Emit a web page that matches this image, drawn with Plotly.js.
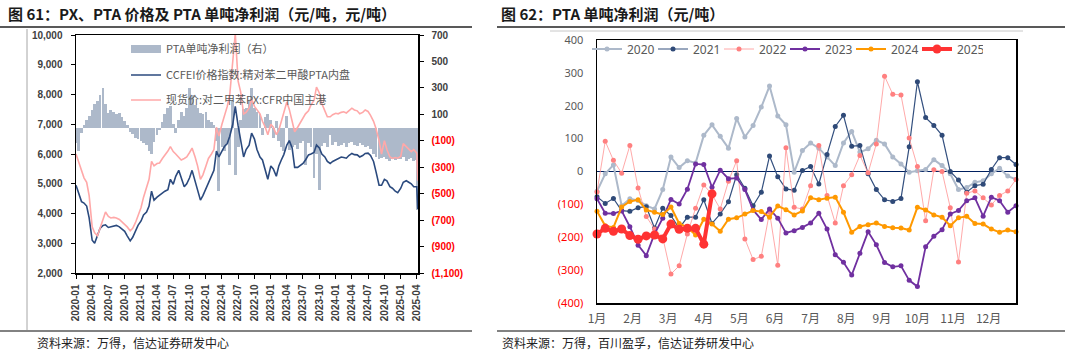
<!DOCTYPE html>
<html>
<head>
<meta charset="utf-8">
<script src="https://cdn.plot.ly/plotly-3.0.1.min.js"></script>
<style>html,body{margin:0;padding:0;background:#fff;}#chart{width:1065px;height:355px;}</style>
</head>
<body>
<div id="chart"></div>
<script>
// ---------- Left chart data (semi-monthly readings, 1st & 15th of each month) ----------
const pta2020 = [4950,4700,4400,4350,4250,3850,3100,3000,3250,3500,3600,3620,3530,3560,3570,3600,3550,3480,3400,3250,3080,3200,3450,3600];
const pta2021 = [3750,3950,4050,4250,4750,4450,4550,4620,4700,4750,4800,5150,4980,5250,5450,5200,4900,5000,5200,5450,5100,4800,4450,4600];
const pta2022 = [4850,5050,5250,5450,6100,5900,6100,6250,6350,6600,7000,7600,6950,6450,5900,6150,6300,6700,6500,6150,5900,5800,5450,5150];
const pta2023 = [5600,5500,5250,5600,5800,5980,6300,6450,6200,5550,5550,5600,5680,5800,5970,6000,6050,6300,6200,6000,5900,5750,5680,5750];
const pta2024 = [5800,5850,5900,5880,5860,5950,6020,5980,5970,5900,5950,6020,6030,5950,5750,5400,4950,4950,5150,5100,4900,4850,4750,4700];
const pta2025 = [4850,5050,5100,5050,5000,4900,4900,4150];

const px2020 = [6000,5750,5400,5200,5050,4600,3550,3350,3250,3500,3750,4050,3900,3850,3870,3850,3800,3720,3650,3550,3420,3500,3700,3900];
const px2021 = [4200,4550,4850,5150,5750,5600,5680,5700,5850,5950,6100,6250,6080,6000,5900,5800,5850,5900,6050,6200,5900,5600,5150,5300];
const px2022 = [5600,5850,6000,6150,6900,6600,7000,7300,7600,8000,9000,10050,8450,8100,7350,7400,7550,7850,7600,7500,7350,7100,6900,6650];
const px2023 = [7000,6900,6650,6800,7100,7350,7750,7500,7100,6750,6900,7050,7200,7350,7450,7650,7800,8250,8050,7700,7450,7250,7250,7320];
const px2024 = [7370,7350,7400,7420,7380,7450,7540,7480,7450,7350,7400,7480,7430,7300,7100,6850,6450,6000,6450,6150,5900,5850,5880,5860];
const px2025 = [5920,6350,6250,6150,6080,6150,6030,5100];

const pr2020 = [-120,-180,-40,20,60,90,130,180,200,250,300,180,110,130,120,100,110,80,50,20,-30,-50,-80,-90];
const pr2021 = [-100,-120,-130,-180,-200,-110,-60,-20,40,100,150,160,30,-40,60,120,90,150,300,250,170,150,110,100];
const pr2022 = [120,60,40,20,-100,-480,-150,-180,-120,-280,200,-360,-150,60,140,150,200,300,150,120,100,-60,80,100];
const pr2023 = [60,-80,50,-100,-150,-180,90,-170,-150,-130,-160,-120,-100,-280,-120,-150,-380,-200,-470,-140,-120,-150,-60,-130];
const pr2024 = [-110,-140,-130,-120,-150,-120,-110,-130,-140,-120,-130,-150,-140,-160,-200,-220,-240,-230,-220,-240,-250,-240,-245,-235];
const pr2025 = [-240,-220,-250,-240,-230,-255,-245,-620];

const leftNames = ['PTA单吨净利润（右）','CCFEI价格指数:精对苯二甲酸PTA内盘','现货价:对二甲苯PX:CFR中国主港'];
const leftTicksR = [700,500,300,100,-100,-300,-500,-700,-900,-1100];

// dates (1st and 15th of each month, last reading in April 2025)
const dates = [];
for (let y = 2020; y <= 2025; y++) {
  for (let m = 1; m <= 12; m++) {
    const mm = String(m).padStart(2,'0');
    dates.push(`${y}-${mm}-01`);
    if (y === 2025 && m === 4) break;
    dates.push(`${y}-${mm}-15`);
  }
}
dates.push('2025-04-07');
const pta = [].concat(pta2020,pta2021,pta2022,pta2023,pta2024,pta2025);
const pxv = [].concat(px2020,px2021,px2022,px2023,px2024,px2025);
const prof = [].concat(pr2020,pr2021,pr2022,pr2023,pr2024,pr2025);

// ---------- Right chart data (weekly) ----------
const months = ['1月','2月','3月','4月','5月','6月','7月','8月','9月','10月','11月','12月'];
const years = ['2020','2021','2022','2023','2024','2025'];
const y2020 = [-60,-7,20,-104,-83,-88,-104,-114,-55,44,12,33,26,110,142,107,71,161,105,140,196,260,169,142,-2,64,87,71,44,18,87,122,59,69,95,84,44,23,-2,2,6,36,18,-7,-55,-49,-33,-28,-7,10,-14,-24];
const y2021 = [-77,-97,-82,-119,-121,-110,-107,-172,-112,-134,-173,-139,-139,-86,-158,-129,-92,-10,-51,-104,-63,47,-16,-53,-57,3,15,-38,52,137,171,77,79,-7,-55,-86,-91,-82,75,273,164,140,110,0,-26,-63,-43,-39,6,42,42,21];
const y2022 = [-62,92,34,-5,79,-50,-137,-175,-200,-312,-287,-190,-112,-41,-70,-114,-30,33,-205,-268,-258,-124,-285,72,-109,-114,-43,79,-73,-157,-43,-10,49,-4,84,290,235,233,102,15,-150,5,0,-110,-275,-66,-59,-80,-102,-73,-59,-24];
const y2023 = [-83,-127,-128,-120,-168,-224,-256,-190,-142,-85,-99,-54,23,21,-48,4,-22,-20,-55,-117,-146,-114,-142,-187,-180,-170,-157,-127,-175,-253,-276,-315,-249,-183,-223,-277,-290,-287,-331,-350,-229,-197,-177,-129,-119,-89,-80,-136,-78,-89,-124,-104];
const y2024 = [-121,-165,-170,-108,-91,-86,-117,-124,-131,-108,-158,-170,-193,-145,-160,-182,-145,-141,-129,-119,-122,-139,-105,-116,-132,-120,-80,-86,-81,-78,-124,-185,-167,-162,-157,-167,-171,-172,-178,-109,-117,-132,-139,-165,-141,-136,-158,-160,-175,-185,-178,-183];
const y2025 = [-190,-173,-182,-175,-195,-206,-196,-193,-205,-160,-176,-173,-173,-221,-68];
const rightTicks = [400,300,200,100,0,-100,-200,-300,-400];

// ---------- helpers ----------
const W = 1065, H = 355;
const fx = v => v / W;
const fy = v => 1 - v / H;
const RED = '#FF0000';
const fmtNeg = (v, sep) => {
  const a = Math.abs(v);
  const s = sep ? a.toLocaleString('en-US') : String(a);
  return v < 0 ? `<span style="color:${RED}">(${s})</span>` : s;
};
const weeks = arr => arr.map((_, i) => i);

const traces = [];
// left: bars (profit) on main y (right side), lines on overlay y2 (left side)
traces.push({type:'bar', x:dates, y:prof, xaxis:'x', yaxis:'y', name:leftNames[0],
  marker:{color:'#ADB9CA', line:{width:0}}, width:16*86400000, showlegend:false, hoverinfo:'skip'});
traces.push({type:'scatter', mode:'lines', x:[null], y:[null], xaxis:'x', yaxis:'y', name:leftNames[0],
  line:{color:'#ADB9CA', width:8}, legend:'legend2', showlegend:true});
traces.push({type:'scatter', mode:'lines', x:dates, y:pta, xaxis:'x', yaxis:'y2', name:leftNames[1],
  line:{color:'#2B4A7E', width:1.6}, legend:'legend3'});
traces.push({type:'scatter', mode:'lines', x:dates, y:pxv, xaxis:'x', yaxis:'y2', name:leftNames[2],
  line:{color:'#FFA8A8', width:1.6}, legend:'legend4'});

// right: weekly series
const rs = [
  {y:y2020, c:'#ADB9CA', mc:'#ADB9CA', w:2, ms:5},
  {y:y2021, c:'#34507F', mc:'#2F4A78', w:1.2, ms:5},
  {y:y2022, c:'rgba(255,140,140,0.75)', mc:'#FF8080', w:1, ms:5},
  {y:y2023, c:'#7030A0', mc:'#7030A0', w:1.8, ms:5},
  {y:y2024, c:'#FF9900', mc:'#FF9900', w:2, ms:5},
  {y:y2025, c:'#FF3333', mc:'#FF3333', w:4, ms:9},
];
rs.forEach((s, k) => {
  traces.push({type:'scatter', mode:'lines+markers', x:weeks(s.y), y:s.y, xaxis:'x3', yaxis:'y3',
    name:years[k], line:{color:s.c, width:s.w}, marker:{color:s.mc, size:s.ms, symbol:'circle'},
    cliponaxis:false, legend:'legend'});
});

const tickFontL = {family:'Liberation Sans, Arial, sans-serif', size:10, color:'#404040', weight:'bold'};
const tickFontR = {family:'Noto Sans, Liberation Sans, sans-serif', size:11, color:'#595959'};
const legFontL = {family:'Noto Sans CJK SC, sans-serif', size:11, color:'#595959'};

const layout = {
  width: W, height: H,
  margin: {l:0, r:0, t:0, b:0, pad:0},
  paper_bgcolor:'#ffffff', plot_bgcolor:'rgba(0,0,0,0)',
  hovermode:false, barmode:'overlay', bargap:0,
  showlegend:true,
  xaxis: {type:'date', domain:[fx(76), fx(418)], anchor:'y', range:['2020-01-01','2025-04-08'],
    tickformat:'%Y-%m', dtick:'M3', tick0:'2020-01-01', tickangle:-90,
    ticks:'outside', ticklen:4, tickcolor:'#000', showline:true, linecolor:'#000', linewidth:1.5,
    mirror:true, showgrid:false, zeroline:false, tickfont:tickFontL, ticklabelstandoff:2},
  yaxis: {domain:[fy(273), fy(35)], anchor:'x', side:'right', range:[-1100,700],
    tickvals:leftTicksR, ticktext:leftTicksR.map(v => fmtNeg(v, true)),
    ticks:'outside', ticklen:4, tickcolor:'#000', showline:true, linecolor:'#000', linewidth:1.5,
    showgrid:false, zeroline:false, tickfont:tickFontL, ticklabelstandoff:6},
  yaxis2: {overlaying:'y', anchor:'x', side:'left', range:[2000,10000], dtick:1000, tickformat:',d',
    ticks:'outside', ticklen:4, tickcolor:'#000', showline:true, linecolor:'#000', linewidth:1.5,
    showgrid:false, zeroline:false, tickfont:tickFontL, ticklabelstandoff:6},
  xaxis3: {domain:[fx(597), fx(1016)], anchor:'y3', range:[0,51],
    tickvals:months.map((_, i) => i * 52 / 12), ticktext:months, ticks:'',
    showline:true, linecolor:'#000', linewidth:1.5, mirror:true, showgrid:false, zeroline:false,
    tickfont:{family:'Noto Sans CJK SC, sans-serif', size:12, color:'#595959'}, ticklabelstandoff:4},
  yaxis3: {domain:[fy(303), fy(40)], anchor:'x3', range:[-400,400],
    tickvals:rightTicks, ticktext:rightTicks.map(v => fmtNeg(v, false)), ticks:'',
    showline:true, linecolor:'#000', linewidth:1.5, mirror:true, showgrid:false,
    zeroline:true, zerolinecolor:'#002060', zerolinewidth:1.6, tickfont:tickFontR, ticklabelstandoff:10},
  legend: {orientation:'h', x:fx(587), xanchor:'left', y:fy(49), yanchor:'middle',
    entrywidth:21, entrywidthmode:'pixels', bgcolor:'rgba(0,0,0,0)', borderwidth:0,
    font:{family:'Noto Sans, sans-serif', size:12, color:'#595959'}, traceorder:'normal'},
  legend2: {x:fx(126), xanchor:'left', y:fy(49), yanchor:'middle', bgcolor:'rgba(0,0,0,0)', font:legFontL},
  legend3: {x:fx(126), xanchor:'left', y:fy(75), yanchor:'middle', bgcolor:'rgba(0,0,0,0)', font:legFontL},
  legend4: {x:fx(126), xanchor:'left', y:fy(100), yanchor:'middle', bgcolor:'rgba(0,0,0,0)', font:legFontL},
  annotations: [
    {text:'<b>图 61：PX、PTA 价格及 PTA 单吨净利润（元/吨，元/吨）</b>', x:fx(6), y:fy(14), xref:'paper', yref:'paper',
      xanchor:'left', yanchor:'middle', showarrow:false, font:{family:'Noto Sans CJK SC, sans-serif', size:15, color:'#1a1a1a'}},
    {text:'<b>图 62：PTA 单吨净利润（元/吨）</b>', x:fx(499), y:fy(14), xref:'paper', yref:'paper',
      xanchor:'left', yanchor:'middle', showarrow:false, font:{family:'Noto Sans CJK SC, sans-serif', size:15, color:'#1a1a1a'}},
    {text:'资料来源：万得，信达证券研发中心', x:fx(35), y:fy(342), xref:'paper', yref:'paper',
      xanchor:'left', yanchor:'middle', showarrow:false, font:{family:'Noto Sans CJK SC, sans-serif', size:12, color:'#222'}},
    {text:'资料来源：万得，百川盈孚，信达证券研发中心', x:fx(500), y:fy(342), xref:'paper', yref:'paper',
      xanchor:'left', yanchor:'middle', showarrow:false, font:{family:'Noto Sans CJK SC, sans-serif', size:12, color:'#222'}}
  ],
  shapes: [
    {type:'line', xref:'paper', yref:'paper', x0:0, x1:fx(472), y0:fy(27), y1:fy(27), line:{color:'#595959', width:2}},
    {type:'line', xref:'paper', yref:'paper', x0:fx(497), x1:1, y0:fy(27), y1:fy(27), line:{color:'#595959', width:2}},
    {type:'line', xref:'paper', yref:'paper', x0:fx(550), x1:fx(1023), y0:fy(31), y1:fy(31), line:{color:'#C8C8C8', width:1}},
    {type:'line', xref:'paper', yref:'paper', x0:fx(27), x1:fx(27), y0:fy(29), y1:fy(330), line:{color:'#A6A6A6', width:1}},
    {type:'line', xref:'paper', yref:'paper', x0:0, x1:fx(472), y0:fy(331), y1:fy(331), line:{color:'#595959', width:1.5}},
    {type:'line', xref:'paper', yref:'paper', x0:fx(497), x1:1, y0:fy(331), y1:fy(331), line:{color:'#595959', width:1.5}}
  ]
};

Plotly.newPlot('chart', traces, layout, {displayModeBar:false, staticPlot:true});
</script>
</body>
</html>
